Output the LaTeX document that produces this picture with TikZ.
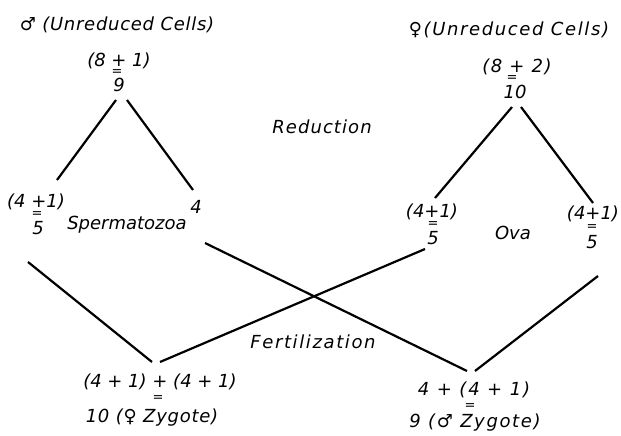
\documentclass[tikz,border=0pt]{standalone}
\usepackage{fontspec}
\setmainfont{DejaVu Sans}
\begin{document}
\begin{tikzpicture}[x=1pt,y=-1pt,
  lbl/.style={inner sep=0pt,font=\fontsize{18}{18}\selectfont\itshape},
  lsp/.style={inner sep=0pt,font=\fontsize{18}{18}\selectfont\itshape\addfontfeatures{LetterSpace=#1}},
  eqs/.style={inner sep=0pt,font=\fontsize{13}{13}\selectfont},
  ln/.style={line width=2.2pt}]
\useasboundingbox (0,0) rectangle (621,436);
% male side
\node[lsp=4] (mtitle) at (117,25) {♂ (Unreduced Cells)};
\node[lbl] (mtop) at (119,61) {(8 + 1)};
\node[eqs] (meq) at (117,73) {=};
\node[lbl] (mnine) at (119,85) {9};
\node[lbl] (mlt) at (36,202) {(4 +1)};
\node[eqs] (mleq) at (37,215) {=};
\node[lbl] (mlf) at (38,228) {5};
\node[lbl] (sperm) at (127,225) {Spermatozoa};
\node[lbl] (mfour) at (196,207) {4};
% female side
\node[lsp=9] (ftitle) at (509,30) {♀(Unreduced Cells)};
\node[lsp=8] (ftop) at (517,67) {(8 + 2)};
\node[eqs] (feq) at (512,79) {=};
\node[lbl] (ften) at (515,92) {10};
\node[lbl] (olt) at (432,212) {(4+1)};
\node[eqs] (oleq) at (433,225) {=};
\node[lbl] (olf) at (433,238) {5};
\node[lbl] (ova) at (513,233) {Ova};
\node[lbl] (ort) at (593,214) {(4+1)};
\node[eqs] (oreq) at (592,228) {=};
\node[lbl] (orf) at (592,242) {5};
% middle
\node[lsp=6] (red) at (322,127) {Reduction};
\node[lsp=9] (fert) at (313,342) {Fertilization};
% zygotes
\node[lbl] (zlt) at (160,382) {(4 + 1) + (4 + 1)};
\node[eqs] (zleq) at (158,399) {=};
\node[lsp=4] (zlb) at (152,418) {10 (♀ Zygote)};
\node[lsp=10] (zrt) at (474,390) {4 + (4 + 1)};
\node[eqs] (zreq) at (470,407) {=};
\node[lsp=9] (zrb) at (475,423) {9 (♂ Zygote)};
% connector end points
\coordinate (m1) at (116,100); \coordinate (m2) at (57,180);
\coordinate (m3) at (127,100); \coordinate (m4) at (193,190);
\coordinate (f1) at (512,107); \coordinate (f2) at (435,198);
\coordinate (f3) at (521,107); \coordinate (f4) at (593,203);
\coordinate (s1) at (28,262);  \coordinate (zl1) at (152,362);
\coordinate (s2) at (205,243); \coordinate (zr1) at (467,371);
\coordinate (o1) at (425,249); \coordinate (zl2) at (160,362);
\coordinate (o2) at (598,276); \coordinate (zr2) at (475,371);
\draw[ln] (m1) -- (m2);
\draw[ln] (m3) -- (m4);
\draw[ln] (f1) -- (f2);
\draw[ln] (f3) -- (f4);
\draw[ln] (s1) -- (zl1);
\draw[ln] (s2) -- (zr1);
\draw[ln] (o1) -- (zl2);
\draw[ln] (o2) -- (zr2);
\end{tikzpicture}
\end{document}
